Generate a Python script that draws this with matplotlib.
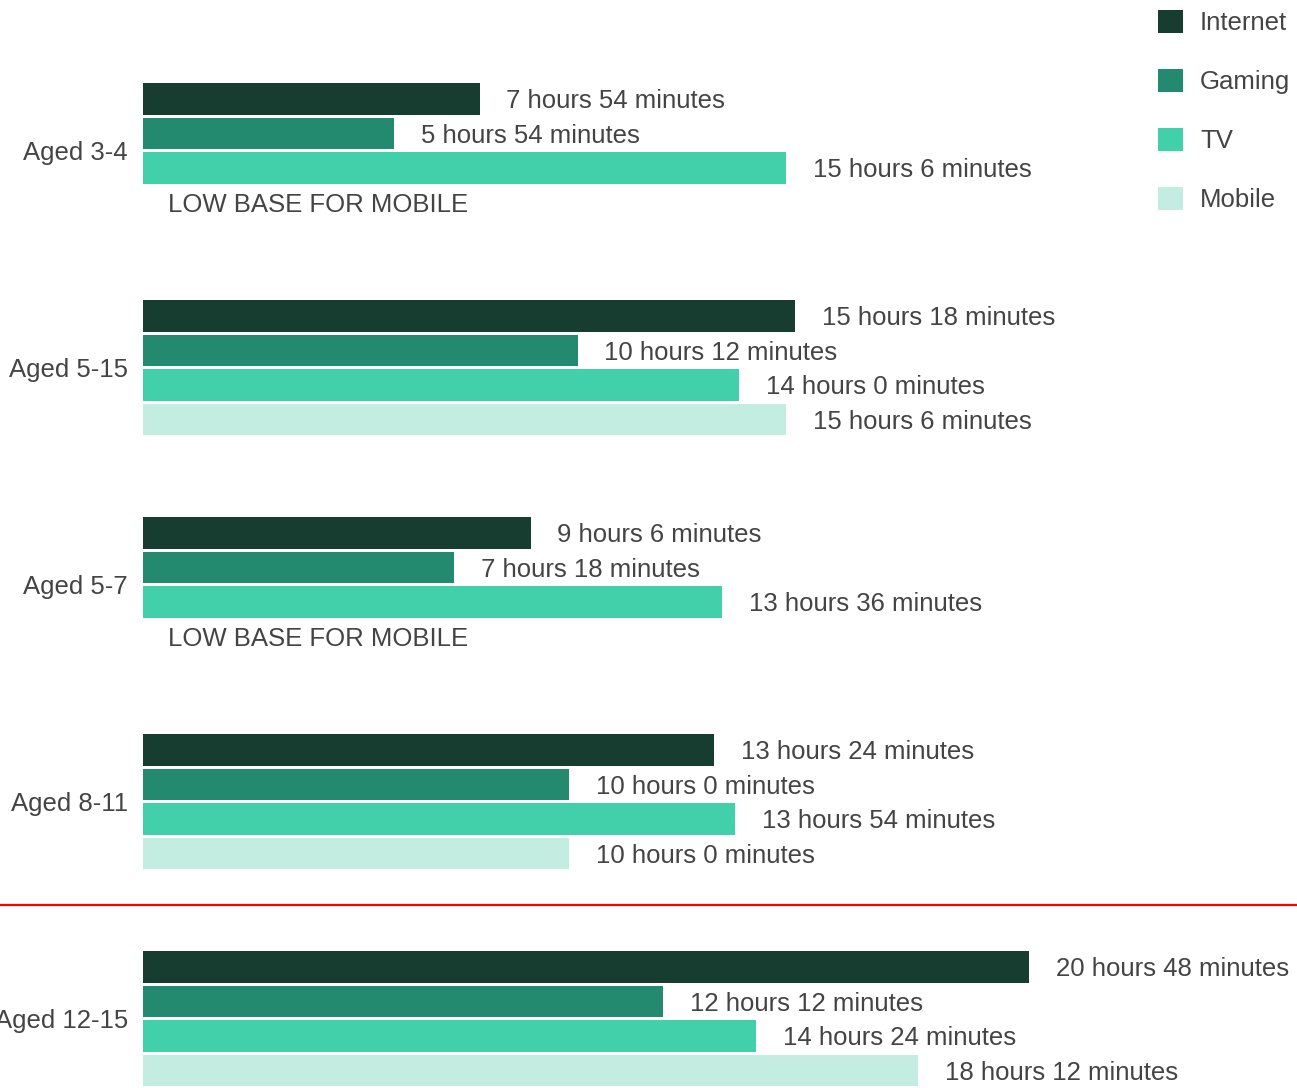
import numpy as np
import matplotlib.pyplot as plt
from matplotlib.patches import Patch

plt.rcParams['font.family'] = ['Liberation Sans', 'DejaVu Sans']

groups = ["Aged 3-4", "Aged 5-15", "Aged 5-7", "Aged 8-11", "Aged 12-15"]
series = ["Internet", "Gaming", "TV", "Mobile"]
colors = ["#173d31", "#248a6f", "#42d0ab", "#c3ede0"]

# hours per week, None = low base
internet = [7.9, 15.3, 9.1, 13.4, 20.8]
gaming = [5.9, 10.2, 7.3, 10.0, 12.2]
tv = [15.1, 14.0, 13.6, 13.9, 14.4]
mobile = [None, 15.1, None, 10.0, 18.2]
low_base_note = "LOW BASE FOR MOBILE"


def fmt(h):
    total = int(round(h * 60))
    return f"{total // 60} hours {total % 60} minutes"


W, H = 1297, 1088
fig = plt.figure(figsize=(W / 100, H / 100), dpi=100)
x0 = 143 / W
ax = fig.add_axes([x0, 0, 1 - x0, 1])
px_per_hour = 42.6
ax.set_xlim(0, (W - 143) / px_per_hour)
slot = 34.5
ax.set_ylim((H - 99) / slot, -99 / slot)
ax.axis("off")

group_step = 217 / slot
text_col = "#444444"
fs = 18.5
dy = 0.07  # nudge text down a little

for g, name in enumerate(groups):
    base = g * group_step
    vals = [internet[g], gaming[g], tv[g], mobile[g]]
    for k, v in enumerate(vals):
        y = base + k
        if v is None:
            ax.text(0.59, y + dy, low_base_note, va="center", ha="left",
                    fontsize=fs, color=text_col)
            continue
        ax.barh(y, v, height=0.9, color=colors[k], edgecolor="none")
        ax.text(v + 0.63, y + dy, fmt(v), va="center", ha="left",
                fontsize=fs, color=text_col)
    ax.text(-0.35, base + 1.5 + dy, name, va="center", ha="right",
            fontsize=fs, color=text_col, clip_on=False)

# red divider
fig.add_artist(plt.Line2D([0, 1], [1 - 905 / H, 1 - 905 / H],
                          color="red", lw=1.6))

handles = [Patch(facecolor=c, edgecolor="none") for c in colors]
fig.legend(handles, series, loc="upper left",
           bbox_to_anchor=(1137 / W, 1 + 11 / H), frameon=False,
           fontsize=fs, handlelength=1.0, handleheight=1.0,
           handletextpad=0.65, labelspacing=1.32, borderpad=0.3,
           labelcolor=text_col)

fig.savefig("out.png", dpi=100)
